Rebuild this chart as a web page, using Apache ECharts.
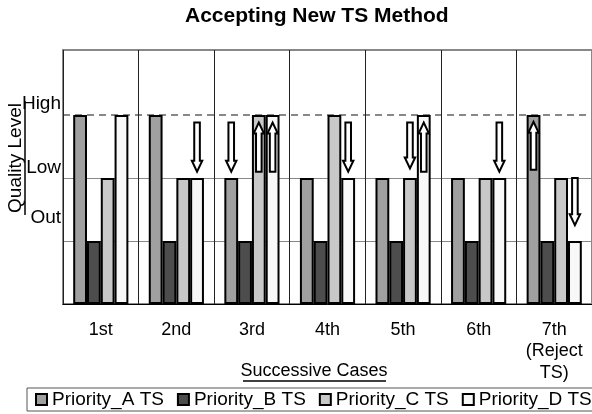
<!DOCTYPE html>
<html>
<head>
<meta charset="utf-8">
<title>Accepting New TS Method</title>
<style>
    html, body { margin: 0; padding: 0; background: #fff; }
    .chart { width: 592px; height: 414px; }
</style>
</head>
<body>
<div class="chart"></div>
<script src="https://cdn.jsdelivr.net/npm/echarts@6/dist/echarts.min.js"></script>
<script>
// 1. data
var cases = ['1st', '2nd', '3rd', '4th', '5th', '6th', '7th\n(Reject\nTS)'];
// quality level of each TS: 1 = Out, 2 = Low, 3 = High
var priorityA = [3, 3, 2, 2, 2, 2, 3];
var priorityB = [1, 1, 1, 1, 1, 1, 1];
var priorityC = [2, 2, 3, 3, 2, 2, 2];
var priorityD = [3, 2, 3, 2, 3, 2, 1];
var levelLabels = { 1: 'Out', 2: 'Low', 3: 'High' };
// arrows: [case index, priority index, from level, to level]
var arrows = [
    [1, 3, 2.88, 2.1],
    [2, 0, 2.88, 2.1],
    [2, 2, 2.1, 2.88],
    [2, 3, 2.1, 2.88],
    [3, 3, 2.88, 2.1],
    [4, 2, 2.88, 2.15],
    [4, 3, 2.1, 2.88],
    [5, 3, 2.88, 2.1],
    [6, 0, 2.13, 2.89],
    [6, 3, 2.0, 1.25]
];
var seriesNames = ['Priority_A TS', 'Priority_B TS', 'Priority_C TS', 'Priority_D TS'];

(function () {
    var font = '"Liberation Sans", Arial, sans-serif';
    var colors = ['#a0a0a0', '#4d4d4d', '#c8c8c8', '#f8f8f8'];
    var values = [priorityA, priorityB, priorityC, priorityD];
    var catGap = 0.27;

    var series = values.map(function (v, i) {
        return {
            name: seriesNames[i],
            type: 'bar',
            barGap: '0%',
            barCategoryGap: (catGap * 100) + '%',
            itemStyle: {
                color: colors[i],
                borderColor: '#000',
                borderWidth: 2
            },
            emphasis: { disabled: true },
            data: v
        };
    });

    // hollow arrows drawn on top of the bars
    series.push({
        type: 'custom',
        silent: true,
        z: 5,
        encode: { x: 0, y: [2, 3] },
        data: arrows,
        renderItem: function (params, api) {
            var cat = api.value(0);
            var bar = api.value(1);
            var band = api.size([1, 0])[0];
            var barW = band * (1 - catGap) / 4;
            var x = api.coord([cat, 0])[0] + (bar - 1.5) * barW;
            var y0 = api.coord([cat, api.value(2)])[1];
            var y1 = api.coord([cat, api.value(3)])[1];
            var d = y1 > y0 ? 1 : -1;
            var sw = 2.8, hw = 5.2, hl = 11;
            var yh = y1 - d * hl;
            return {
                type: 'polygon',
                shape: {
                    points: [
                        [x - sw, y0], [x + sw, y0], [x + sw, yh], [x + hw, yh],
                        [x, y1], [x - hw, yh], [x - sw, yh]
                    ]
                },
                style: { fill: '#fff', stroke: '#000', lineWidth: 2 }
            };
        }
    });

    var myChart = echarts.init(document.querySelector('.chart'));
    var option = {
        backgroundColor: '#fff',
        animation: false,
        textStyle: { fontFamily: font },
        title: {
            text: 'Accepting New TS Method',
            left: 185,
            top: 6,
            padding: 0,
            textStyle: { fontSize: 21, fontWeight: 'bold', color: '#000', fontFamily: font }
        },
        legend: {
            data: seriesNames,
            left: 27,
            top: 388,
            width: 600,
            padding: [2, 8, 2, 8],
            itemGap: 13,
            itemWidth: 11,
            itemHeight: 11,
            icon: 'rect',
            borderColor: '#555',
            borderWidth: 1,
            textStyle: { fontSize: 19, color: '#000', fontFamily: font }
        },
        grid: {
            left: 63,
            top: 50,
            width: 530,
            height: 254,
            show: true,
            borderColor: '#888',
            borderWidth: 2
        },
        xAxis: {
            type: 'category',
            data: cases,
            axisLine: { lineStyle: { color: '#000', width: 1 } },
            axisTick: { interval: 0, length: 6, lineStyle: { color: '#000' } },
            axisLabel: {
                interval: 0,
                margin: 15,
                fontSize: 18,
                lineHeight: 21.5,
                color: '#000',
                fontFamily: font
            },
            splitLine: { show: true, interval: 0, lineStyle: { color: '#222', width: 1 } }
        },
        yAxis: [{
            type: 'value',
            min: 0,
            max: 4.03,
            interval: 1,
            axisLine: { show: false },
            axisTick: { show: false },
            axisLabel: {
                margin: 2,
                color: '#000',
                fontSize: 19,
                fontFamily: font,
                formatter: function (v) {
                    if (v === 3) return '{hi|' + levelLabels[3] + '}';
                    if (v === 2) return '{lo|' + levelLabels[2] + '}';
                    if (v === 1) return '{out|' + levelLabels[1] + '}';
                    return '';
                },
                rich: {
                    hi: { fontSize: 19, color: '#000', fontFamily: font, padding: [0, 0, 22, 0] },
                    lo: { fontSize: 19, color: '#000', fontFamily: font, padding: [0, 0, 20, 0] },
                    out: { fontSize: 19, color: '#000', fontFamily: font, padding: [0, 0, 47, 0] }
                }
            },
            splitLine: {
                lineStyle: { color: ['transparent', '#888', '#888', 'transparent', 'transparent'], width: 1 }
            }
        }, {
            // dashed "High" line
            type: 'value',
            position: 'left',
            min: 0,
            max: 4.03,
            interval: 1,
            axisLine: { show: false },
            axisTick: { show: false },
            axisLabel: { show: false },
            splitLine: {
                lineStyle: {
                    color: ['transparent', 'transparent', 'transparent', '#888', 'transparent'],
                    width: 2,
                    type: [7, 5]
                }
            }
        }],
        graphic: [{
            type: 'text',
            x: 16,
            y: 158,
            rotation: Math.PI / 2,
            style: {
                text: 'Quality Level',
                fontSize: 19,
                fontFamily: font,
                fill: '#000',
                align: 'center',
                verticalAlign: 'middle'
            }
        }, {
            type: 'line',
            shape: { x1: 25, y1: 101, x2: 25, y2: 215 },
            style: { stroke: '#000', lineWidth: 1.5 }
        }, {
            type: 'text',
            x: 314,
            y: 371,
            style: {
                text: 'Successive Cases',
                fontSize: 18,
                fontFamily: font,
                fill: '#000',
                align: 'center',
                verticalAlign: 'middle'
            }
        }, {
            type: 'line',
            shape: { x1: 243, y1: 381, x2: 386, y2: 381 },
            style: { stroke: '#000', lineWidth: 1.5 }
        }],
        series: series
    };
    myChart.setOption(option);
    window.addEventListener('resize', function () {
        myChart.resize();
    });
})();
</script>
</body>
</html>
